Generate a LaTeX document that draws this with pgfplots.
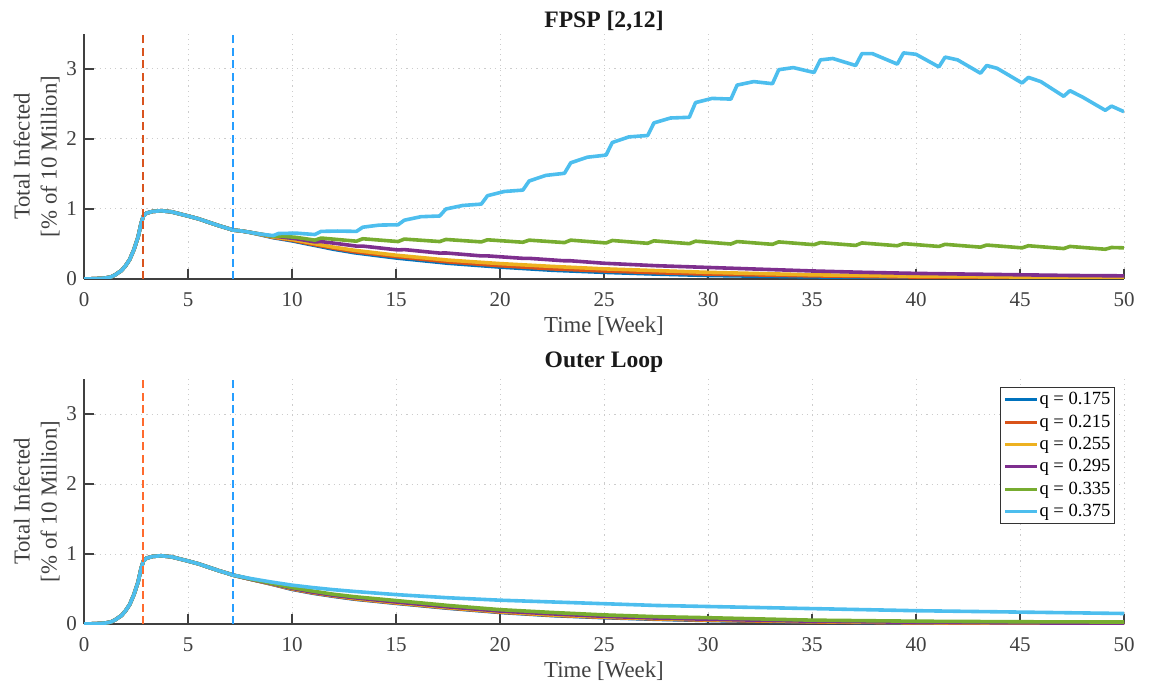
\documentclass[border=0pt]{standalone}
\usepackage{fontspec}
\setmainfont{Liberation Serif}
\usepackage{pgfplots}
\pgfplotsset{compat=1.18}
\definecolor{c1}{rgb}{0,0.447,0.741}
\definecolor{c2}{rgb}{0.85,0.325,0.098}
\definecolor{c3}{rgb}{0.929,0.694,0.125}
\definecolor{c4}{rgb}{0.494,0.184,0.556}
\definecolor{c5}{rgb}{0.466,0.674,0.188}
\definecolor{c6}{rgb}{0.301,0.745,0.933}
\definecolor{dashred}{rgb}{0.85,0.33,0.12}
\definecolor{dashred2}{rgb}{1,0.42,0.18}
\definecolor{dashblue}{rgb}{0.15,0.62,1}
\definecolor{axgray}{rgb}{0.25,0.25,0.25}
\pgfplotsset{
  every axis title shift=0pt,
  myax/.style={
    scale only axis, width=520pt, height=122.5pt,
    xmin=0, xmax=50, ymin=0, ymax=3.5,
    xtick={0,5,...,50}, ytick={0,1,2,3},
    axis x line*=bottom, axis y line*=left,
    axis line style={-, draw=axgray, line width=0.7pt},
    tick align=inside, major tick length=5pt,
    tick style={draw=axgray, line width=0.7pt},
    grid=major,
    major grid style={draw=black!20, line width=0.5pt, dash pattern=on 0.6pt off 2pt},
    /pgf/number format/assume math mode=true,
    tick label style={font=\fontsize{10.5}{12}\selectfont, text=axgray},
    xticklabel style={yshift=-3.2pt},
    xlabel={Time [Week]},
    ylabel={Total Infected\\{}[\% of 10 Million]},
    label style={font=\fontsize{11.4}{13.5}\selectfont, text=axgray},
    xlabel style={at={(axis description cs:0.5,-0.217)}, anchor=base},
    ylabel style={at={(axis description cs:-0.0455,0.5)}, anchor=center, align=center, rotate=0},
    title style={font=\bfseries\fontsize{11.8}{14}\selectfont, text=black!90, anchor=base},
    every axis plot/.append style={line width=1.8pt, line join=round},
    legend image code/.code={\draw[#1, line width=1.5pt] (0pt,0pt) -- (15.8pt,0pt);},
  }
}
\begin{document}
\begin{tikzpicture}
% ================= TOP =================
\begin{axis}[myax, at={(42pt,-139.5pt)}, anchor=south west,
  title={FPSP [2,12]}, title style={at={(axis description cs:0.5,1.026)}, anchor=base}]
\addplot[c1] coordinates {(0,0) (0.5,0.004) (1.0,0.012) (1.3,0.03) (1.5,0.06) (1.8,0.12) (2.0,0.19) (2.2,0.28) (2.4,0.42) (2.6,0.60) (2.75,0.80) (2.857,0.90) (3.0,0.94) (3.3,0.965) (3.7,0.975) (4.2,0.96) (4.6,0.93) (5,0.90) (5.5,0.86) (6,0.81) (6.5,0.76) (7,0.715) (7.143,0.70) (7.6,0.685) (8.0,0.665) (8.5,0.63) (9.1,0.59) (10,0.545) (11,0.485) (12,0.425) (13,0.375) (15,0.30) (17.5,0.225) (20,0.17) (22.5,0.125) (25,0.095) (27.5,0.07) (30,0.05) (35,0.03) (40,0.018) (45,0.01) (50,0.006)};
\addplot[c2] coordinates {(0,0) (0.5,0.004) (1.0,0.012) (1.3,0.03) (1.5,0.06) (1.8,0.12) (2.0,0.19) (2.2,0.28) (2.4,0.42) (2.6,0.60) (2.75,0.80) (2.857,0.90) (3.0,0.94) (3.3,0.965) (3.7,0.975) (4.2,0.96) (4.6,0.93) (5,0.90) (5.5,0.86) (6,0.81) (6.5,0.76) (7,0.715) (7.143,0.70) (7.6,0.685) (8.0,0.665) (8.5,0.635) (9.1,0.595) (10,0.555) (11,0.495) (12,0.44) (13,0.39) (15,0.32) (17.5,0.245) (20,0.19) (22.5,0.145) (25,0.115) (27.5,0.09) (30,0.07) (35,0.045) (40,0.028) (45,0.018) (50,0.012)};
\addplot[c3] coordinates {(0,0) (0.5,0.004) (1.0,0.012) (1.3,0.03) (1.5,0.06) (1.8,0.12) (2.0,0.19) (2.2,0.28) (2.4,0.42) (2.6,0.60) (2.75,0.80) (2.857,0.90) (3.0,0.94) (3.3,0.965) (3.7,0.975) (4.2,0.96) (4.6,0.93) (5,0.90) (5.5,0.86) (6,0.81) (6.5,0.76) (7,0.715) (7.143,0.70) (7.6,0.685) (8.0,0.665) (8.5,0.635) (9.1,0.60) (10,0.565) (11,0.51) (12,0.455) (13,0.41) (15,0.34) (17.5,0.27) (20,0.22) (22.5,0.18) (25,0.145) (27.5,0.12) (30,0.095) (35,0.06) (40,0.04) (45,0.028) (50,0.02)};
\addplot[c4] coordinates {(0,0) (0.5,0.004) (1.0,0.012) (1.3,0.03) (1.5,0.06) (1.8,0.12) (2.0,0.19) (2.2,0.28) (2.4,0.42) (2.6,0.60) (2.75,0.80) (2.857,0.90) (3.0,0.94) (3.3,0.965) (3.7,0.975) (4.2,0.96) (4.6,0.93) (5,0.90) (5.5,0.86) (6,0.81) (6.5,0.76) (7,0.715) (7.143,0.70) (7.6,0.685) (8.0,0.665) (8.5,0.64) (9.1,0.61) (9.35,0.605) (10.2,0.575) (11.1,0.53) (11.4,0.535) (12.2,0.505) (13.1,0.47) (13.4,0.47) (15.1,0.415) (15.4,0.42) (17.1,0.37) (17.4,0.372) (19.1,0.33) (19.4,0.33) (21.1,0.295) (21.4,0.295) (23.1,0.26) (23.4,0.26) (25,0.225) (27.5,0.19) (30,0.165) (32.5,0.14) (35,0.115) (37.5,0.095) (40,0.08) (42.5,0.07) (45,0.06) (47.5,0.05) (50,0.045)};
\addplot[c5] coordinates {(0,0) (0.5,0.004) (1.0,0.012) (1.3,0.03) (1.5,0.06) (1.8,0.12) (2.0,0.19) (2.2,0.28) (2.4,0.42) (2.6,0.60) (2.75,0.80) (2.857,0.90) (3.0,0.94) (3.3,0.965) (3.7,0.975) (4.2,0.96) (4.6,0.93) (5,0.90) (5.5,0.86) (6,0.81) (6.5,0.76) (7,0.715) (7.143,0.70) (7.6,0.685) (8.0,0.665) (8.5,0.64) (9.1,0.61) (9.35,0.615) (10.2,0.595) (11.1,0.555) (11.4,0.585) (13.1,0.54) (13.4,0.575) (15.1,0.535) (15.4,0.57) (17.1,0.535) (17.4,0.565) (19.1,0.53) (19.4,0.56) (21.1,0.525) (21.4,0.555) (23.1,0.52) (23.4,0.555) (25.1,0.515) (25.4,0.55) (27.1,0.51) (27.4,0.545) (29.1,0.505) (29.4,0.54) (31.1,0.50) (31.4,0.535) (33.1,0.495) (33.4,0.53) (35.1,0.49) (35.4,0.52) (37.1,0.48) (37.4,0.515) (39.1,0.475) (39.4,0.505) (41.1,0.465) (41.4,0.495) (43.1,0.455) (43.4,0.485) (45.1,0.445) (45.4,0.475) (47.1,0.435) (47.4,0.465) (49.1,0.425) (49.4,0.45) (50,0.445)};
\addplot[c6] coordinates {(0,0) (0.5,0.004) (1.0,0.012) (1.3,0.03) (1.5,0.06) (1.8,0.12) (2.0,0.19) (2.2,0.28) (2.4,0.42) (2.6,0.60) (2.75,0.80) (2.857,0.90) (3.0,0.94) (3.3,0.965) (3.7,0.975) (4.2,0.96) (4.6,0.93) (5,0.90) (5.5,0.86) (6,0.81) (6.5,0.76) (7,0.715) (7.143,0.70) (7.6,0.685) (8.0,0.665) (8.5,0.64) (9.1,0.62) (9.35,0.65) (10.2,0.655) (11.1,0.635) (11.4,0.68) (12.2,0.685) (13.1,0.68) (13.4,0.74) (14.2,0.77) (15.1,0.775) (15.4,0.84) (16.2,0.89) (17.1,0.90) (17.4,1.0) (18.2,1.05) (19.1,1.07) (19.4,1.19) (20.2,1.25) (21.1,1.27) (21.4,1.40) (22.2,1.48) (23.1,1.51) (23.4,1.66) (24.2,1.74) (25.1,1.77) (25.4,1.95) (26.2,2.03) (27.1,2.05) (27.4,2.23) (28.2,2.30) (29.1,2.31) (29.4,2.52) (30.2,2.58) (31.1,2.57) (31.4,2.77) (32.2,2.82) (33.1,2.79) (33.4,2.99) (34.1,3.02) (35.1,2.95) (35.4,3.13) (36.0,3.15) (37.1,3.05) (37.4,3.22) (37.9,3.22) (39.1,3.07) (39.4,3.23) (40.0,3.21) (41.1,3.03) (41.4,3.17) (42.0,3.13) (43.1,2.94) (43.4,3.05) (43.9,3.01) (45.1,2.80) (45.4,2.88) (46.0,2.82) (47.1,2.61) (47.4,2.69) (48.0,2.60) (49.1,2.41) (49.4,2.47) (50,2.39)};
\addplot[dashred, line width=1pt, dash pattern=on 4pt off 2.2pt] coordinates {(2.857,0) (2.857,3.5)};
\addplot[dashblue, line width=1pt, dash pattern=on 4pt off 2.2pt] coordinates {(7.143,0) (7.143,3.5)};
\end{axis}
% ================= BOTTOM =================
\begin{axis}[myax, at={(42pt,-312pt)}, anchor=south west,
  title={Outer Loop}, title style={at={(axis description cs:0.5,1.045)}, anchor=base},
  legend style={at={(axis description cs:0.9913,0.967)}, anchor=north east,
    draw=black!80, line width=0.5pt, fill=white,
    font=\fontsize{9.3}{10}\selectfont,
    inner xsep=1.5pt, inner ysep=1.2pt, row sep=1.15pt,
    nodes={inner sep=0.5pt, text height=7pt, text depth=2pt}},
  legend cell align=left]
\addplot[c1] coordinates {(0,0) (0.5,0.004) (1.0,0.012) (1.3,0.03) (1.5,0.06) (1.8,0.12) (2.0,0.19) (2.2,0.28) (2.4,0.42) (2.6,0.60) (2.75,0.80) (2.857,0.90) (3.0,0.94) (3.3,0.965) (3.7,0.975) (4.2,0.96) (4.6,0.93) (5,0.90) (5.5,0.86) (6,0.81) (6.5,0.76) (7,0.715) (7.143,0.70) (8,0.64) (9,0.57) (10,0.495) (11,0.44) (12,0.395) (13,0.355) (15,0.295) (17.5,0.225) (20,0.165) (22.5,0.12) (25,0.09) (27.5,0.067) (30,0.05) (35,0.027) (40,0.015) (45,0.009) (50,0.005)};
\addplot[c2] coordinates {(0,0) (0.5,0.004) (1.0,0.012) (1.3,0.03) (1.5,0.06) (1.8,0.12) (2.0,0.19) (2.2,0.28) (2.4,0.42) (2.6,0.60) (2.75,0.80) (2.857,0.90) (3.0,0.94) (3.3,0.965) (3.7,0.975) (4.2,0.96) (4.6,0.93) (5,0.90) (5.5,0.86) (6,0.81) (6.5,0.76) (7,0.715) (7.143,0.70) (8,0.64) (9,0.572) (10,0.50) (11,0.445) (12,0.40) (13,0.36) (15,0.30) (17.5,0.23) (20,0.17) (22.5,0.125) (25,0.095) (27.5,0.072) (30,0.055) (35,0.03) (40,0.017) (45,0.01) (50,0.006)};
\addplot[c3] coordinates {(0,0) (0.5,0.004) (1.0,0.012) (1.3,0.03) (1.5,0.06) (1.8,0.12) (2.0,0.19) (2.2,0.28) (2.4,0.42) (2.6,0.60) (2.75,0.80) (2.857,0.90) (3.0,0.94) (3.3,0.965) (3.7,0.975) (4.2,0.96) (4.6,0.93) (5,0.90) (5.5,0.86) (6,0.81) (6.5,0.76) (7,0.715) (7.143,0.70) (8,0.64) (9,0.574) (10,0.505) (11,0.45) (12,0.405) (13,0.365) (15,0.305) (17.5,0.235) (20,0.175) (22.5,0.13) (25,0.10) (27.5,0.077) (30,0.06) (35,0.035) (40,0.02) (45,0.012) (50,0.008)};
\addplot[c4] coordinates {(0,0) (0.5,0.004) (1.0,0.012) (1.3,0.03) (1.5,0.06) (1.8,0.12) (2.0,0.19) (2.2,0.28) (2.4,0.42) (2.6,0.60) (2.75,0.80) (2.857,0.90) (3.0,0.94) (3.3,0.965) (3.7,0.975) (4.2,0.96) (4.6,0.93) (5,0.90) (5.5,0.86) (6,0.81) (6.5,0.76) (7,0.715) (7.143,0.70) (8,0.64) (9,0.578) (10,0.51) (11,0.455) (12,0.41) (13,0.375) (15,0.315) (17.5,0.245) (20,0.185) (22.5,0.145) (25,0.11) (27.5,0.085) (30,0.068) (35,0.04) (40,0.025) (45,0.016) (50,0.011)};
\addplot[c5] coordinates {(0,0) (0.5,0.004) (1.0,0.012) (1.3,0.03) (1.5,0.06) (1.8,0.12) (2.0,0.19) (2.2,0.28) (2.4,0.42) (2.6,0.60) (2.75,0.80) (2.857,0.90) (3.0,0.94) (3.3,0.965) (3.7,0.975) (4.2,0.96) (4.6,0.93) (5,0.90) (5.5,0.86) (6,0.81) (6.5,0.76) (7,0.715) (7.143,0.70) (8,0.643) (9,0.583) (10,0.52) (11,0.47) (12,0.425) (13,0.39) (15,0.335) (17.5,0.265) (20,0.205) (22.5,0.165) (25,0.13) (27.5,0.105) (30,0.09) (35,0.055) (40,0.04) (45,0.032) (50,0.028)};
\addplot[c6] coordinates {(0,0) (0.5,0.004) (1.0,0.012) (1.3,0.03) (1.5,0.06) (1.8,0.12) (2.0,0.19) (2.2,0.28) (2.4,0.42) (2.6,0.60) (2.75,0.80) (2.857,0.90) (3.0,0.94) (3.3,0.965) (3.7,0.975) (4.2,0.96) (4.6,0.93) (5,0.90) (5.5,0.86) (6,0.81) (6.5,0.76) (7,0.715) (7.143,0.70) (8,0.65) (9,0.60) (10,0.555) (11,0.52) (12,0.49) (13,0.465) (15,0.42) (17.5,0.375) (20,0.34) (22.5,0.315) (25,0.29) (27.5,0.265) (30,0.25) (35,0.22) (40,0.19) (45,0.17) (50,0.15)};
\legend{q = 0.175, q = 0.215, q = 0.255, q = 0.295, q = 0.335, q = 0.375}
\addplot[dashred2, line width=1pt, dash pattern=on 4pt off 2.2pt, forget plot] coordinates {(2.857,0) (2.857,3.5)};
\addplot[dashblue, line width=1pt, dash pattern=on 4pt off 2.2pt, forget plot] coordinates {(7.143,0) (7.143,3.5)};
\end{axis}
\pgfresetboundingbox
\path[use as bounding box] (0,0) rectangle (575pt,-341.5pt);
\end{tikzpicture}
\end{document}
